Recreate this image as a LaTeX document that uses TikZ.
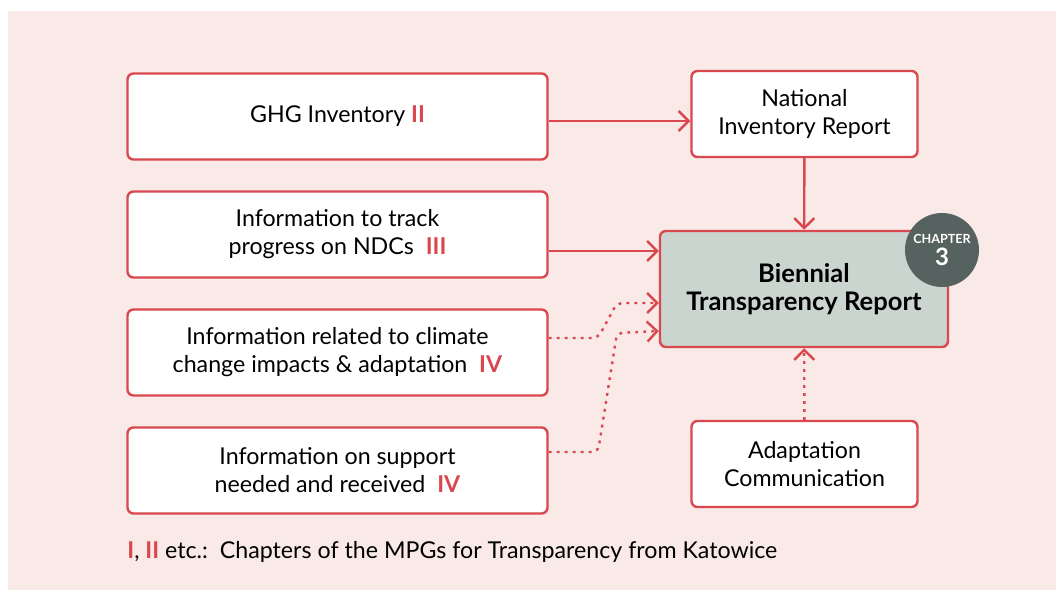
\documentclass[tikz,border=0pt]{standalone}
\usepackage{fontspec}
\setmainfont{Lato}
\usetikzlibrary{arrows.meta}
\definecolor{btrred}{HTML}{D9474F}
\definecolor{btrback}{HTML}{F9EAE7}
\definecolor{btrgrey}{HTML}{CBD5CF}
\definecolor{chapgrey}{HTML}{56625F}
\newcommand{\chap}[1]{\textcolor{btrred}{\textbf{#1}}}
\begin{document}
\begin{tikzpicture}[x=0.5pt,y=-0.5pt,
  infobox/.style={draw=btrred, line width=1.2pt, fill=white, rounded corners=3pt,
    minimum width=210pt, minimum height=43pt, align=center, font=\fontsize{11.6}{14}\selectfont},
  reportbox/.style={infobox, minimum width=113pt},
  link/.style={draw=btrred, line width=1.2pt, -{Straight Barb[length=5pt,width=10pt,line width=1.2pt]}},
  dotlink/.style={link, dash pattern=on 1.4pt off 2.6pt, rounded corners=3pt}]
\useasboundingbox (0,0) rectangle (1056,590);
\fill[btrback] (8,11) rectangle (1056,590);
% left column
\node[infobox] (ghg) at (337.5,116.5) {GHG Inventory \chap{II}};
\node[infobox] (ndc) at (337.5,234.5) {Information to track\\progress on NDCs\ \ \chap{III}};
\node[infobox] (adapt) at (337.5,352.5) {Information related to climate\\change impacts \& adaptation\ \ \chap{IV}};
\node[infobox] (support) at (337.5,470.5) {Information on support\\needed and received\ \ \chap{IV}};
% right column
\node[reportbox] (nir) at (804.5,114) {National\\Inventory Report};
\node[reportbox] (adcom) at (804.5,464) {Adaptation\\Communication};
\node[infobox, fill=btrgrey, minimum width=144pt, minimum height=58pt, font=\fontsize{12.8}{14}\selectfont\bfseries] (btr) at (804,289) {Biennial\\Transparency Report};
\node[circle, fill=chapgrey, minimum size=37pt, inner sep=0pt, text=white, align=center] (chapter) at (942,250)
  {{\fontsize{6.3}{6}\selectfont\bfseries CHAPTER}\\[-1pt]{\fontsize{12}{12}\selectfont\bfseries 3}};
% arrows
\draw[link] (ghg.east |- 0,121) -- (nir.west |- 0,121);
\draw[link] (nir) -- (btr);
\draw[link] (ndc.east |- 0,251) -- (btr.west |- 0,251);
\draw[dotlink] (adapt.east |- 0,338) -- (598,338) -- (617,303) -- (btr.west |- 0,303);
\draw[dotlink] (support.east |- 0,452) -- (598,452) -- (617,333) -- (btr.west |- 0,331);
\draw[dotlink] (adcom) -- (btr);
% footnote
\node[anchor=base west, inner sep=0pt, font=\fontsize{11.6}{14}\selectfont] (note) at (127,558)
  {\chap{I}, \chap{II} etc.:\ \ Chapters of the MPGs for Transparency from Katowice};
\end{tikzpicture}
\end{document}
